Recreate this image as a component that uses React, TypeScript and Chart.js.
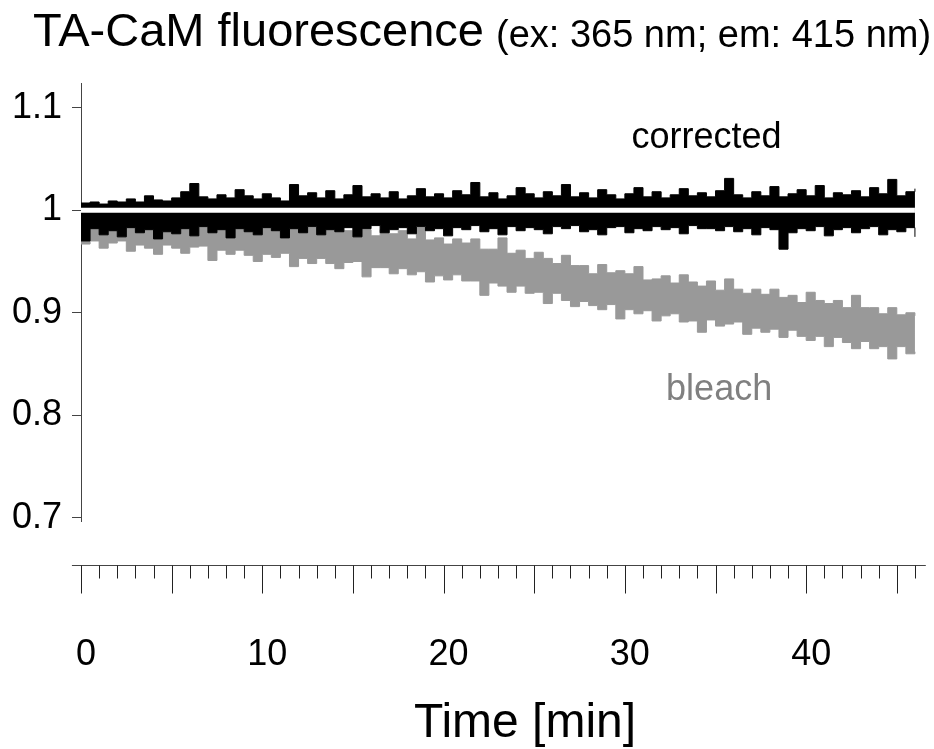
import React, { useEffect, useRef } from 'react';
import { Chart, registerables } from 'chart.js';

Chart.register(...registerables);

// sampling interval of the recorded traces (minutes)
const SAMPLE_STEP_MIN = 0.5;

// "bleach" trace: upper / lower envelope of the noisy signal
const bleachHigh = [
  1.001, 1.004, 0.999, 1.002, 1.006, 0.997, 1.0, 1.002, 0.997, 1.005,
  0.997, 0.993, 0.999, 1.0, 0.993, 1.004, 0.994, 0.99, 0.995, 0.99,
  0.991, 0.995, 0.987, 0.988, 0.998, 0.983, 0.987, 0.983, 0.987, 0.98,
  0.989, 0.981, 0.975, 0.981, 0.977, 0.98, 0.972, 0.983, 0.971, 0.973,
  0.967, 0.972, 0.968, 0.972, 0.962, 0.962, 0.973, 0.958, 0.961, 0.953,
  0.959, 0.953, 0.948, 0.956, 0.946, 0.946, 0.938, 0.947, 0.939, 0.941,
  0.938, 0.945, 0.932, 0.933, 0.936, 0.929, 0.937, 0.93, 0.926, 0.931,
  0.922, 0.933, 0.923, 0.919, 0.923, 0.918, 0.923, 0.915, 0.917, 0.91,
  0.92, 0.912, 0.909, 0.912, 0.905, 0.917, 0.905, 0.905, 0.899, 0.905,
  0.898, 0.9, 0.897,
];
const bleachLow = [
  0.967, 0.97, 0.963, 0.968, 0.97, 0.96, 0.966, 0.963, 0.957, 0.966,
  0.963, 0.958, 0.964, 0.965, 0.951, 0.961, 0.957, 0.961, 0.956, 0.95,
  0.957, 0.954, 0.958, 0.945, 0.953, 0.948, 0.953, 0.948, 0.943, 0.949,
  0.95, 0.935, 0.944, 0.944, 0.938, 0.943, 0.937, 0.94, 0.93, 0.936,
  0.932, 0.937, 0.931, 0.931, 0.917, 0.929, 0.926, 0.92, 0.926, 0.919,
  0.92, 0.909, 0.919, 0.912, 0.906, 0.911, 0.907, 0.903, 0.908, 0.894,
  0.903, 0.899, 0.902, 0.892, 0.897, 0.899, 0.891, 0.892, 0.881, 0.893,
  0.887, 0.889, 0.891, 0.879, 0.885, 0.881, 0.884, 0.876, 0.883, 0.877,
  0.873, 0.877, 0.867, 0.876, 0.871, 0.865, 0.872, 0.865, 0.867, 0.855,
  0.867, 0.86, 0.862,
];

// "corrected" trace: upper / lower envelope of the noisy signal
const correctedHigh = [
  1.007, 1.008, 1.006, 1.009, 1.008, 1.011, 1.008, 1.014, 1.01, 1.009,
  1.012, 1.018, 1.026, 1.013, 1.011, 1.015, 1.012, 1.02, 1.014, 1.011,
  1.016, 1.012, 1.009, 1.025, 1.014, 1.017, 1.012, 1.019, 1.011, 1.015,
  1.024, 1.013, 1.016, 1.012, 1.018, 1.011, 1.014, 1.021, 1.013, 1.016,
  1.012, 1.019, 1.015, 1.027, 1.013, 1.017, 1.011, 1.014, 1.022, 1.016,
  1.012, 1.018, 1.014, 1.025, 1.013, 1.017, 1.012, 1.02, 1.015, 1.011,
  1.016, 1.022, 1.013, 1.018, 1.012, 1.015, 1.021, 1.014, 1.017, 1.013,
  1.019, 1.031, 1.015, 1.012, 1.018, 1.014, 1.023, 1.013, 1.016, 1.02,
  1.014, 1.024, 1.012, 1.017, 1.015, 1.019, 1.013, 1.022, 1.016, 1.03,
  1.014, 1.018, 1.021,
];
const correctedLow = [
  0.97, 0.982, 0.976, 0.98, 0.974, 0.983, 0.978, 0.981, 0.972, 0.979,
  0.977, 0.982, 0.975, 0.984, 0.978, 0.981, 0.973, 0.982, 0.979, 0.976,
  0.983, 0.98, 0.973, 0.982, 0.978, 0.984, 0.976, 0.981, 0.979, 0.983,
  0.974, 0.982, 0.985, 0.978, 0.981, 0.983, 0.977, 0.984, 0.98, 0.982,
  0.975, 0.983, 0.981, 0.985, 0.979, 0.982, 0.976, 0.984, 0.98, 0.983,
  0.981, 0.977, 0.984, 0.982, 0.985, 0.979, 0.981, 0.976, 0.983, 0.984,
  0.978, 0.982, 0.98, 0.984, 0.981, 0.983, 0.977, 0.985, 0.982, 0.982,
  0.98, 0.984, 0.979, 0.982, 0.976, 0.983, 0.981, 0.962, 0.978, 0.982,
  0.98, 0.984, 0.975, 0.981, 0.983, 0.978, 0.982, 0.984, 0.976, 0.981,
  0.979, 0.983, 0.974,
];

const referenceLevel = 1;
const referenceSpan = [0, 46];

const xLabelValues = [0, 10, 20, 30, 40];
const xMin = 0;
const xMax = 46.5;
const yMin = 0.697;
const yMax = 1.124;

const titleMain = 'TA-CaM fluorescence';
const titleSub = '(ex: 365 nm; em: 415 nm)';
const xAxisTitle = 'Time [min]';
const correctedLabel = 'corrected';
const bleachLabel = 'bleach';

const FONT = '"Liberation Sans", Arial, Helvetica, sans-serif';

const toPoints = (arr: number[]) =>
  arr.map((y, i) => ({ x: i * SAMPLE_STEP_MIN, y }));

const decorPlugin = {
  id: 'decor',
  afterDraw(chart: any) {
    const { ctx, chartArea, scales } = chart;
    const xs = scales.x;
    const ys = scales.y;
    ctx.save();

    // detached time axis
    const axisY = Math.round(chartArea.bottom + 44) + 0.5;
    ctx.strokeStyle = '#444';
    ctx.lineWidth = 1;
    ctx.beginPath();
    ctx.moveTo(xs.getPixelForValue(-0.5), axisY);
    ctx.lineTo(xs.getPixelForValue(46.6), axisY);
    ctx.stroke();
    ctx.strokeStyle = '#222';
    xs.ticks.forEach((tk: any) => {
      const px = Math.round(xs.getPixelForValue(tk.value)) + 0.5;
      const len = tk.value % 5 === 0 ? 28 : 13;
      ctx.beginPath();
      ctx.moveTo(px, axisY);
      ctx.lineTo(px, axisY + len);
      ctx.stroke();
    });

    // title
    ctx.fillStyle = '#000';
    ctx.textBaseline = 'alphabetic';
    ctx.textAlign = 'left';
    ctx.font = `47px ${FONT}`;
    ctx.fillText(titleMain, 33, 46);
    ctx.font = `38px ${FONT}`;
    ctx.fillText(titleSub, 496, 47);

    // annotations
    ctx.textAlign = 'center';
    ctx.font = `36px ${FONT}`;
    ctx.fillStyle = '#000';
    ctx.fillText(correctedLabel, xs.getPixelForValue(34.5), ys.getPixelForValue(1.0605));
    ctx.fillStyle = '#808080';
    ctx.fillText(bleachLabel, xs.getPixelForValue(35.2), ys.getPixelForValue(0.8146));

    // x axis title
    ctx.fillStyle = '#000';
    ctx.font = `48px ${FONT}`;
    ctx.fillText(xAxisTitle, 525, 737);

    ctx.restore();
  },
};

export default function App() {
  const canvasRef = useRef<HTMLCanvasElement | null>(null);

  useEffect(() => {
    document.body.style.margin = '0';
    const canvas = canvasRef.current;
    if (!canvas) return;
    Chart.defaults.font.family = FONT;
    const chart = new Chart(canvas, {
      type: 'line',
      data: {
        datasets: [
          {
            label: 'bleach high',
            data: toPoints(bleachHigh),
            borderColor: '#999999',
            backgroundColor: '#999999',
            borderWidth: 1,
            pointRadius: 0,
            stepped: true,
            fill: false,
            order: 3,
          },
          {
            label: 'bleach low',
            data: toPoints(bleachLow),
            borderColor: '#999999',
            backgroundColor: '#999999',
            borderWidth: 1,
            pointRadius: 0,
            stepped: true,
            fill: '-1',
            order: 3,
          },
          {
            label: 'corrected high',
            data: toPoints(correctedHigh),
            borderColor: '#000000',
            backgroundColor: '#000000',
            borderWidth: 1,
            pointRadius: 0,
            stepped: true,
            fill: false,
            order: 2,
          },
          {
            label: 'corrected low',
            data: toPoints(correctedLow),
            borderColor: '#000000',
            backgroundColor: '#000000',
            borderWidth: 1,
            pointRadius: 0,
            stepped: true,
            fill: '-1',
            order: 2,
          },
          {
            label: 'reference',
            data: referenceSpan.map((x) => ({ x, y: referenceLevel })),
            borderColor: '#ffffff',
            borderWidth: 5,
            pointRadius: 0,
            fill: false,
            order: 1,
          },
        ],
      },
      options: {
        responsive: false,
        animation: false,
        layout: { padding: { top: 83, right: 10, left: 0, bottom: 0 } },
        plugins: {
          legend: { display: false },
          tooltip: { enabled: false },
          title: { display: false },
        },
        scales: {
          x: {
            type: 'linear',
            position: 'bottom',
            min: xMin,
            max: xMax,
            grid: {
              display: true,
              drawOnChartArea: false,
              drawTicks: true,
              tickLength: 106,
              color: 'rgba(0,0,0,0)',
            },
            border: { display: false },
            afterFit: (s: any) => {
              s.height = 228;
            },
            ticks: {
              stepSize: 1,
              autoSkip: false,
              maxRotation: 0,
              includeBounds: false,
              padding: 6,
              labelOffset: 5,
              color: '#000',
              font: { size: 36 },
              callback: (v: any) => (xLabelValues.includes(Number(v)) ? String(v) : ''),
            },
          },
          y: {
            type: 'linear',
            min: yMin,
            max: yMax,
            afterFit: (s: any) => {
              s.width = 81;
            },
            grid: {
              display: true,
              drawOnChartArea: false,
              drawTicks: true,
              tickLength: 9,
              color: '#444',
            },
            border: { display: true, color: '#444', width: 1 },
            ticks: {
              stepSize: 0.1,
              includeBounds: false,
              padding: 10,
              color: '#000',
              font: { size: 36 },
              callback: (v: any) => String(Math.round(Number(v) * 10) / 10),
            },
          },
        },
      },
      plugins: [decorPlugin],
    });
    return () => chart.destroy();
  }, []);

  return (
    <div style={{ position: 'fixed', left: 0, top: 0, width: 934, height: 749, background: '#fff' }}>
      <canvas ref={canvasRef} width={934} height={749} style={{ display: 'block' }} />
    </div>
  );
}
